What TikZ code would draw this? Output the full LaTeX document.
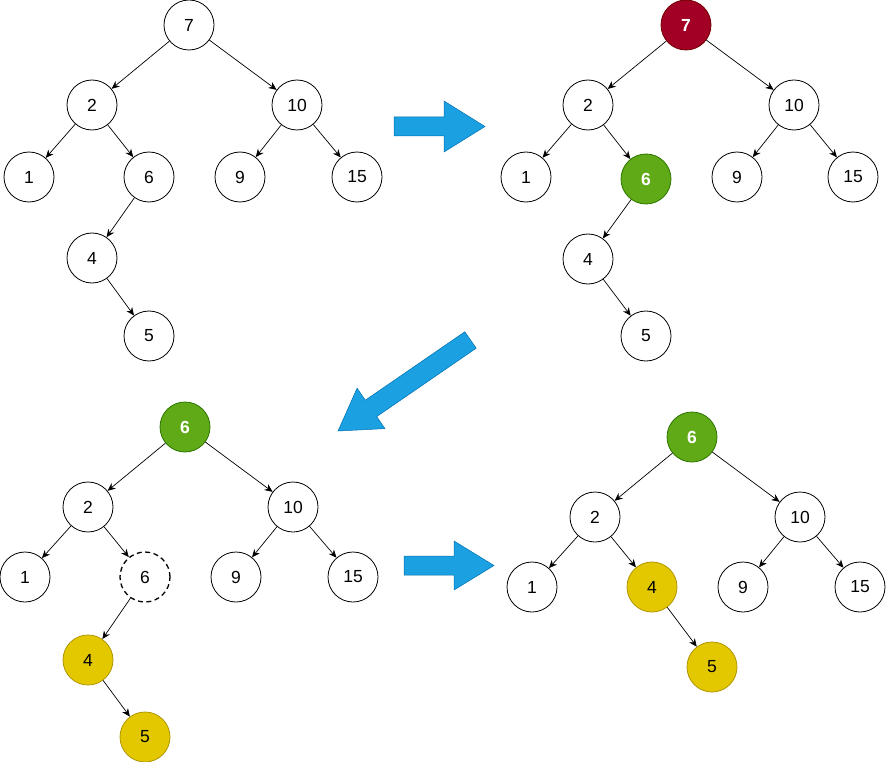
\documentclass[tikz,border=0pt]{standalone}
\usepackage{fontspec}
\setmainfont{Liberation Sans}
\usetikzlibrary{arrows.meta}

\definecolor{rootred}{HTML}{A20025}
\definecolor{rootredline}{HTML}{6F0000}
\definecolor{succgreen}{HTML}{60A917}
\definecolor{succgreenline}{HTML}{2D7600}
\definecolor{moveyellow}{HTML}{E3C800}
\definecolor{moveyellowline}{HTML}{B09500}
\definecolor{stepblue}{HTML}{1BA1E2}
\definecolor{stepblueline}{HTML}{006EAF}

\tikzset{
  vertex/.style={circle, draw, minimum size=50pt, inner sep=0pt, line width=0.8pt,
    font=\fontsize{17.5}{20}\selectfont},
  removed/.style={vertex, fill=rootred, draw=rootredline, text=white,
    font=\fontsize{17.5}{20}\selectfont\bfseries},
  successor/.style={vertex, fill=succgreen, draw=succgreenline, text=white,
    font=\fontsize{17.5}{20}\selectfont\bfseries},
  moved/.style={vertex, fill=moveyellow, draw=moveyellowline},
  emptied/.style={vertex, dash pattern=on 5pt off 3.5pt, line width=1.3pt},
  edge/.style={-{Stealth[length=8pt,width=7pt]}, line width=0.7pt},
  bigarrow/.style={fill=stepblue, draw=stepblueline, line width=0.5pt, line join=miter}
}

\begin{document}
\begin{tikzpicture}[x=1pt, y=-1pt]
  \useasboundingbox (0,0) rectangle (886,762);

  % tree before deletion
  \node[vertex] (a7) at (189,25) {7};
  \node[vertex] (a2) at (92,105) {2};
  \node[vertex] (a10) at (297,105) {10};
  \node[vertex] (a1) at (29,177) {1};
  \node[vertex] (a6) at (149,177) {6};
  \node[vertex] (a9) at (240,177) {9};
  \node[vertex] (a15) at (357,177) {15};
  \node[vertex] (a4) at (92,258) {4};
  \node[vertex] (a5) at (149,336) {5};

  % root to delete and its successor
  \node[removed] (b7) at (686,25) {7};
  \node[vertex] (b2) at (588,105) {2};
  \node[vertex] (b10) at (794,105) {10};
  \node[vertex] (b1) at (526,177) {1};
  \node[successor] (b6) at (646,179) {6};
  \node[vertex] (b9) at (737,177) {9};
  \node[vertex] (b15) at (853,177) {15};
  \node[vertex] (b4) at (588,259) {4};
  \node[vertex] (b5) at (646,336) {5};

  % successor moved up
  \node[successor] (c6) at (185,427) {6};
  \node[vertex] (c2) at (88,507) {2};
  \node[vertex] (c10) at (293,507) {10};
  \node[vertex] (c1) at (25,577) {1};
  \node[emptied] (c6old) at (145,577) {6};
  \node[vertex] (c9) at (236,577) {9};
  \node[vertex] (c15) at (353,577) {15};
  \node[moved] (c4) at (88,660) {4};
  \node[moved] (c5) at (145,737) {5};

  % result
  \node[successor] (d6) at (692,437) {6};
  \node[vertex] (d2) at (595,517) {2};
  \node[vertex] (d10) at (800,517) {10};
  \node[vertex] (d1) at (532,587) {1};
  \node[moved] (d4) at (652,587) {4};
  \node[vertex] (d9) at (743,587) {9};
  \node[vertex] (d15) at (860,587) {15};
  \node[moved] (d5) at (712,667) {5};

  \foreach \t in {a,b} {
    \foreach \p/\c in {7/2, 7/10, 2/1, 2/6, 10/9, 10/15, 6/4, 4/5}
      \draw[edge] (\t\p) -- (\t\c);
  }
  \foreach \p/\c in {6/2, 6/10, 2/1, 2/6old, 10/9, 10/15, 6old/4, 4/5}
    \draw[edge] (c\p) -- (c\c);
  \foreach \p/\c in {6/2, 6/10, 2/1, 2/4, 10/9, 10/15, 4/5}
    \draw[edge] (d\p) -- (d\c);

  % step arrows
  \draw[bigarrow] (394,117) -- (444,117) -- (444,101) -- (485,126.5)
    -- (444,152) -- (444,136) -- (394,136) -- cycle;
  \draw[bigarrow] (464.8,331.8) -- (476.2,348.2) -- (376.7,416.6) -- (384.9,428.6)
    -- (338,431) -- (357.1,388.2) -- (365.3,400.2) -- cycle;
  \draw[bigarrow] (404,556) -- (454,556) -- (454,541) -- (494,565.5)
    -- (454,590) -- (454,575) -- (404,575) -- cycle;
\end{tikzpicture}
\end{document}
